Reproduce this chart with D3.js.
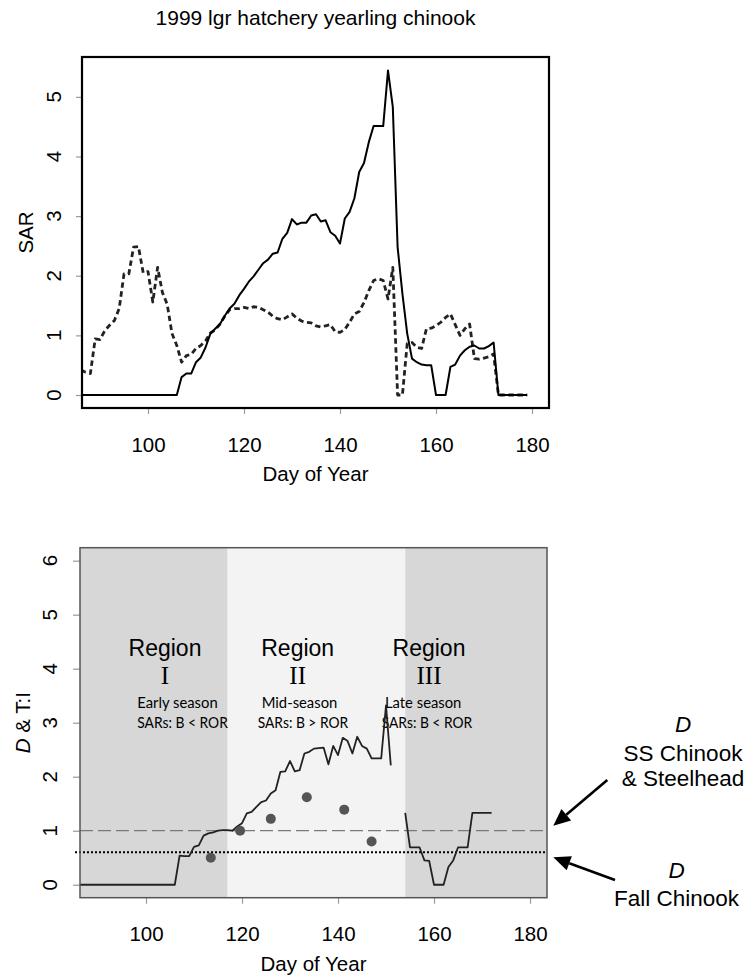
<!DOCTYPE html>
<html><head><meta charset="utf-8">
<script src="https://cdn.jsdelivr.net/npm/d3@7/dist/d3.min.js"></script>
<style>
body{margin:0;background:#fff}
svg{display:block}
text{font-family:"Liberation Sans",Arial,Helvetica,sans-serif;fill:#000}
</style>
</head><body>
<svg id="c" width="752" height="978"></svg>
<script>
// ---------------- DATA ----------------
const titleText = "1999 lgr hatchery yearling chinook";
const sarStartDay = 86; // first day of SAR series
const sarBarge = [ // solid line
  0,0,0,0,0,0,0,0,0,0,
  0,0,0,0,0,0,0,0,0,0,
  0,
  0.30,0.36,0.36,0.55,0.63,0.80,1.03,1.11,1.19,1.33,
  1.45,1.53,1.67,1.78,1.90,1.99,2.10,2.21,2.27,2.37,
  2.39,2.62,2.72,2.95,2.86,2.89,2.89,3.01,3.03,2.91,
  2.93,2.73,2.67,2.54,2.96,3.07,3.30,3.74,3.89,4.24,
  4.51,4.51,4.51,5.44,4.83,2.48,1.70,1.03,0.61,0.55,
  0.51,0.50,0.50,0,0,0,0.47,0.51,0.66,0.75,
  0.81,0.83,0.78,0.78,0.82,0.88,
  0,0,0,0,0,0,0
];
const sarROR = [ // dashed line
  0.42,0.38,0.36,0.94,0.93,1.08,1.17,1.25,1.45,2.03,
  2.03,2.48,2.49,2.05,2.07,1.56,2.14,1.72,1.52,1.03,
  0.83,0.55,0.66,0.68,0.78,0.83,0.91,1.04,1.09,1.19,
  1.32,1.43,1.45,1.45,1.47,1.45,1.48,1.47,1.43,1.39,
  1.32,1.28,1.26,1.31,1.36,1.29,1.24,1.22,1.21,1.16,
  1.14,1.16,1.18,1.06,1.05,1.10,1.22,1.36,1.40,1.55,
  1.75,1.92,1.95,1.92,1.61,2.14,0,0,0.86,0.88,
  0.80,0.78,1.11,1.12,1.16,1.22,1.30,1.36,1.18,1.00,
  1.11,1.19,0.61,0.60,0.62,0.64,0.69,
  0,0,0,0,0,0,0
];
const dtiStartDay = 86;
const dtiValues = [ // D & T:I solid line, null = gap
  0,0,0,0,0,0,0,0,0,0,
  0,0,0,0,0,0,0,0,0,0,
  0,
  0.54,0.53,0.53,0.70,0.73,0.91,0.95,0.97,1.00,1.01,
  1.01,1.00,1.08,1.14,1.32,1.35,1.44,1.53,1.56,1.69,
  1.75,2.09,2.10,2.29,2.10,2.12,2.43,2.46,2.52,2.53,
  2.54,2.23,2.57,2.40,2.72,2.66,2.43,2.74,2.57,2.52,
  2.34,2.34,2.34,3.32,2.21,null,null,
  1.33,0.69,0.69,0.69,0.45,0.44,0,0,0,0.33,
  0.45,0.69,0.69,0.69,1.33,1.33,1.33,1.33,1.33
];
const pointDays = [113.5,119.6,126.0,133.5,141.3,147.0];
const pointValues = [0.50,1.00,1.22,1.62,1.39,0.80];
const xTickValues = [100,120,140,160,180];
const yTicksTop = [0,1,2,3,4,5];
const yTicksBottom = [0,1,2,3,4,5,6];
const regionBreaks = [117,154];
const refSSChinook = 1.0;
const refFallChinook = 0.6;
const regionNumerals = ["I","II","III"];
const regionNotes = [["Early season","SARs: B < ROR"],["Mid-season","SARs: B > ROR"],["Late season","SARs: B < ROR"]];

// ---------------- SCALES ----------------
const svg = d3.select("#c");
const xDomain = [86.25, 183.54];
const pTop = {l:82, r:549, t:57, b:408};
const pBot = {l:80, r:547, t:547.7, b:897.7};
const xTop = d3.scaleLinear().domain(xDomain).range([pTop.l, pTop.r]);
const yTop = d3.scaleLinear().domain([-0.218, 5.668]).range([pTop.b, pTop.t]);
const xBot = d3.scaleLinear().domain(xDomain).range([pBot.l, pBot.r]);
const yBot = d3.scaleLinear().domain([-0.24, 6.24]).range([pBot.b, pBot.t]);

const sarData1 = sarBarge.map((v,i)=>({d:sarStartDay+i, v}));
const sarData2 = sarROR.map((v,i)=>({d:sarStartDay+i, v}));
const dtiData = dtiValues.map((v,i)=>({d:dtiStartDay+i, v}));

const defs = svg.append("defs");
defs.append("clipPath").attr("id","clipTop").append("rect")
  .attr("x",pTop.l).attr("y",pTop.t).attr("width",pTop.r-pTop.l).attr("height",pTop.b-pTop.t);
defs.append("clipPath").attr("id","clipBot").append("rect")
  .attr("x",pBot.l).attr("y",pBot.t).attr("width",pBot.r-pBot.l).attr("height",pBot.b-pBot.t);

const FS = 20.5;

// ---------------- TOP CHART ----------------
svg.append("text").attr("x",(pTop.l+pTop.r)/2).attr("y",25).attr("text-anchor","middle")
  .style("font-size","21px").text(titleText);

const lineTop = d3.line().x(d=>xTop(d.d)).y(d=>yTop(d.v));
const gTop = svg.append("g").attr("clip-path","url(#clipTop)");
gTop.append("path").datum(sarData2).attr("d",lineTop)
  .attr("fill","none").attr("stroke","#222").attr("stroke-width",2.8)
  .attr("stroke-dasharray","5.5,3.5").attr("stroke-linejoin","round");
gTop.append("path").datum(sarData1).attr("d",lineTop)
  .attr("fill","none").attr("stroke","#000").attr("stroke-width",2).attr("stroke-linejoin","round");

function styleAxis(g){
  g.select(".domain").remove();
  g.selectAll(".tick line").attr("stroke","#9a9a9a").attr("stroke-width",1.2);
  g.selectAll(".tick text").style("font-size",FS+"px").attr("fill","#000");
}
svg.append("g").attr("transform",`translate(0,${pTop.b})`)
  .call(d3.axisBottom(xTop).tickValues(xTickValues).tickSize(6).tickPadding(23).tickFormat(d3.format("d")))
  .call(styleAxis);
svg.append("g").attr("transform",`translate(${pTop.l},0)`)
  .call(d3.axisLeft(yTop).tickValues(yTicksTop).tickSize(6).tickFormat(""))
  .call(styleAxis);
svg.append("g").selectAll("text").data(yTicksTop).join("text")
  .attr("transform",d=>`translate(53,${yTop(d)}) rotate(-90)`)
  .attr("text-anchor","middle").attr("dominant-baseline","central")
  .style("font-size",FS+"px").text(d=>d);

svg.append("rect").attr("x",pTop.l).attr("y",pTop.t).attr("width",pTop.r-pTop.l).attr("height",pTop.b-pTop.t)
  .attr("fill","none").attr("stroke","#000").attr("stroke-width",2.2);

svg.append("text").attr("x",(pTop.l+pTop.r)/2).attr("y",481).attr("text-anchor","middle")
  .style("font-size",FS+"px").text("Day of Year");
svg.append("text").attr("transform",`translate(25,${(pTop.t+pTop.b)/2}) rotate(-90)`)
  .attr("text-anchor","middle").attr("dominant-baseline","central")
  .style("font-size",FS+"px").text("SAR");

// ---------------- BOTTOM CHART ----------------
const regionBounds = [xDomain[0], regionBreaks[0], regionBreaks[1], xDomain[1]];
const regionFill = ["#d7d7d7","#f3f3f3","#d7d7d7"];
svg.append("g").selectAll("rect").data([0,1,2]).join("rect")
  .attr("x",i=>xBot(regionBounds[i])).attr("y",pBot.t)
  .attr("width",i=>xBot(regionBounds[i+1])-xBot(regionBounds[i]))
  .attr("height",pBot.b-pBot.t).attr("fill",i=>regionFill[i]);

// region labels
const regionCenters = [165, 297.7, 429];
const noteLeft = [[137.3,137.3],[261.7,257.7],[385,381.7]];
regionCenters.forEach((cx,i)=>{
  svg.append("text").attr("x",cx).attr("y",656).attr("text-anchor","middle")
    .style("font-size","23px").text("Region");
  svg.append("text").attr("x",cx).attr("y",683.5).attr("text-anchor","middle")
    .style("font-family","'Liberation Serif','Times New Roman',serif").style("font-size","25px")
    .text(regionNumerals[i]);
  svg.append("text").attr("x",noteLeft[i][0]).attr("y",707.5)
    .style("font-family","Lato,'Open Sans',sans-serif").style("font-size","14.8px").attr("fill","#1a1a1a")
    .text(regionNotes[i][0]);
  svg.append("text").attr("x",noteLeft[i][1]).attr("y",727.7)
    .style("font-family","Lato,'Open Sans',sans-serif").style("font-size","14.8px").attr("fill","#1a1a1a")
    .attr("textLength",90.5).attr("lengthAdjust","spacingAndGlyphs")
    .text(regionNotes[i][1]);
});

// reference lines
svg.append("line").attr("x1",pBot.l).attr("x2",pBot.r).attr("y1",yBot(refSSChinook)).attr("y2",yBot(refSSChinook))
  .attr("stroke","#7a7a7a").attr("stroke-width",1.3).attr("stroke-dasharray","13,5");
svg.append("line").attr("x1",pBot.l-5).attr("x2",pBot.r).attr("y1",yBot(refFallChinook)).attr("y2",yBot(refFallChinook))
  .attr("stroke","#000").attr("stroke-width",2).attr("stroke-dasharray","2,2");

const gBot = svg.append("g").attr("clip-path","url(#clipBot)");
const lineBot = d3.line().defined(d=>d.v!==null).x(d=>xBot(d.d)).y(d=>yBot(d.v));
gBot.append("path").datum(dtiData).attr("d",lineBot)
  .attr("fill","none").attr("stroke","#222").attr("stroke-width",1.8).attr("stroke-linejoin","round");
gBot.selectAll("circle").data(pointDays).join("circle")
  .attr("cx",(d)=>xBot(d)).attr("cy",(d,i)=>yBot(pointValues[i])).attr("r",5).attr("fill","#555");

svg.append("g").attr("transform",`translate(0,${pBot.b})`)
  .call(d3.axisBottom(xBot).tickValues(xTickValues).tickSize(6).tickPadding(23).tickFormat(d3.format("d")))
  .call(styleAxis);
svg.append("g").attr("transform",`translate(${pBot.l},0)`)
  .call(d3.axisLeft(yBot).tickValues(yTicksBottom).tickSize(7).tickFormat(""))
  .call(styleAxis);
svg.append("g").selectAll("text").data(yTicksBottom).join("text")
  .attr("transform",d=>`translate(49,${yBot(d)}) rotate(-90)`)
  .attr("text-anchor","middle").attr("dominant-baseline","central")
  .style("font-size",FS+"px").text(d=>d);

svg.append("rect").attr("x",pBot.l).attr("y",pBot.t).attr("width",pBot.r-pBot.l).attr("height",pBot.b-pBot.t)
  .attr("fill","none").attr("stroke","#555").attr("stroke-width",1.5);

svg.append("text").attr("x",(pBot.l+pBot.r)/2).attr("y",970.7).attr("text-anchor","middle")
  .style("font-size",FS+"px").text("Day of Year");
const yl = svg.append("text").attr("transform",`translate(22,${(pBot.t+pBot.b)/2}) rotate(-90)`)
  .attr("text-anchor","middle").attr("dominant-baseline","central").style("font-size",FS+"px");
yl.append("tspan").style("font-style","italic").text("D");
yl.append("tspan").text(" & T:I");

// right annotations
function annot(cx, ys, lines){
  lines.forEach((t,i)=>{
    const el = svg.append("text").attr("x",cx).attr("y",ys[i]).attr("text-anchor","middle").style("font-size","22.5px");
    if(t==="D") el.style("font-style","italic");
    el.text(t);
  });
}
annot(683, [732.3,760.7,786], ["D","SS Chinook","& Steelhead"]);
annot(676.5, [878.3,905.7], ["D","Fall Chinook"]);

function arrow(x1,y1,x2,y2){
  const L=17, W=7.5;
  const dx=x2-x1, dy=y2-y1, len=Math.hypot(dx,dy), ux=dx/len, uy=dy/len;
  const bx=x2-ux*L, by=y2-uy*L;
  svg.append("line").attr("x1",x1).attr("y1",y1).attr("x2",bx).attr("y2",by)
    .attr("stroke","#000").attr("stroke-width",2.6);
  svg.append("path").attr("d",`M${x2},${y2}L${bx-uy*W},${by+ux*W}L${bx+uy*W},${by-ux*W}Z`).attr("fill","#000");
}
arrow(607.3,780,553.3,825.7);
arrow(615,880,553.3,857.3);
</script>
</body></html>
